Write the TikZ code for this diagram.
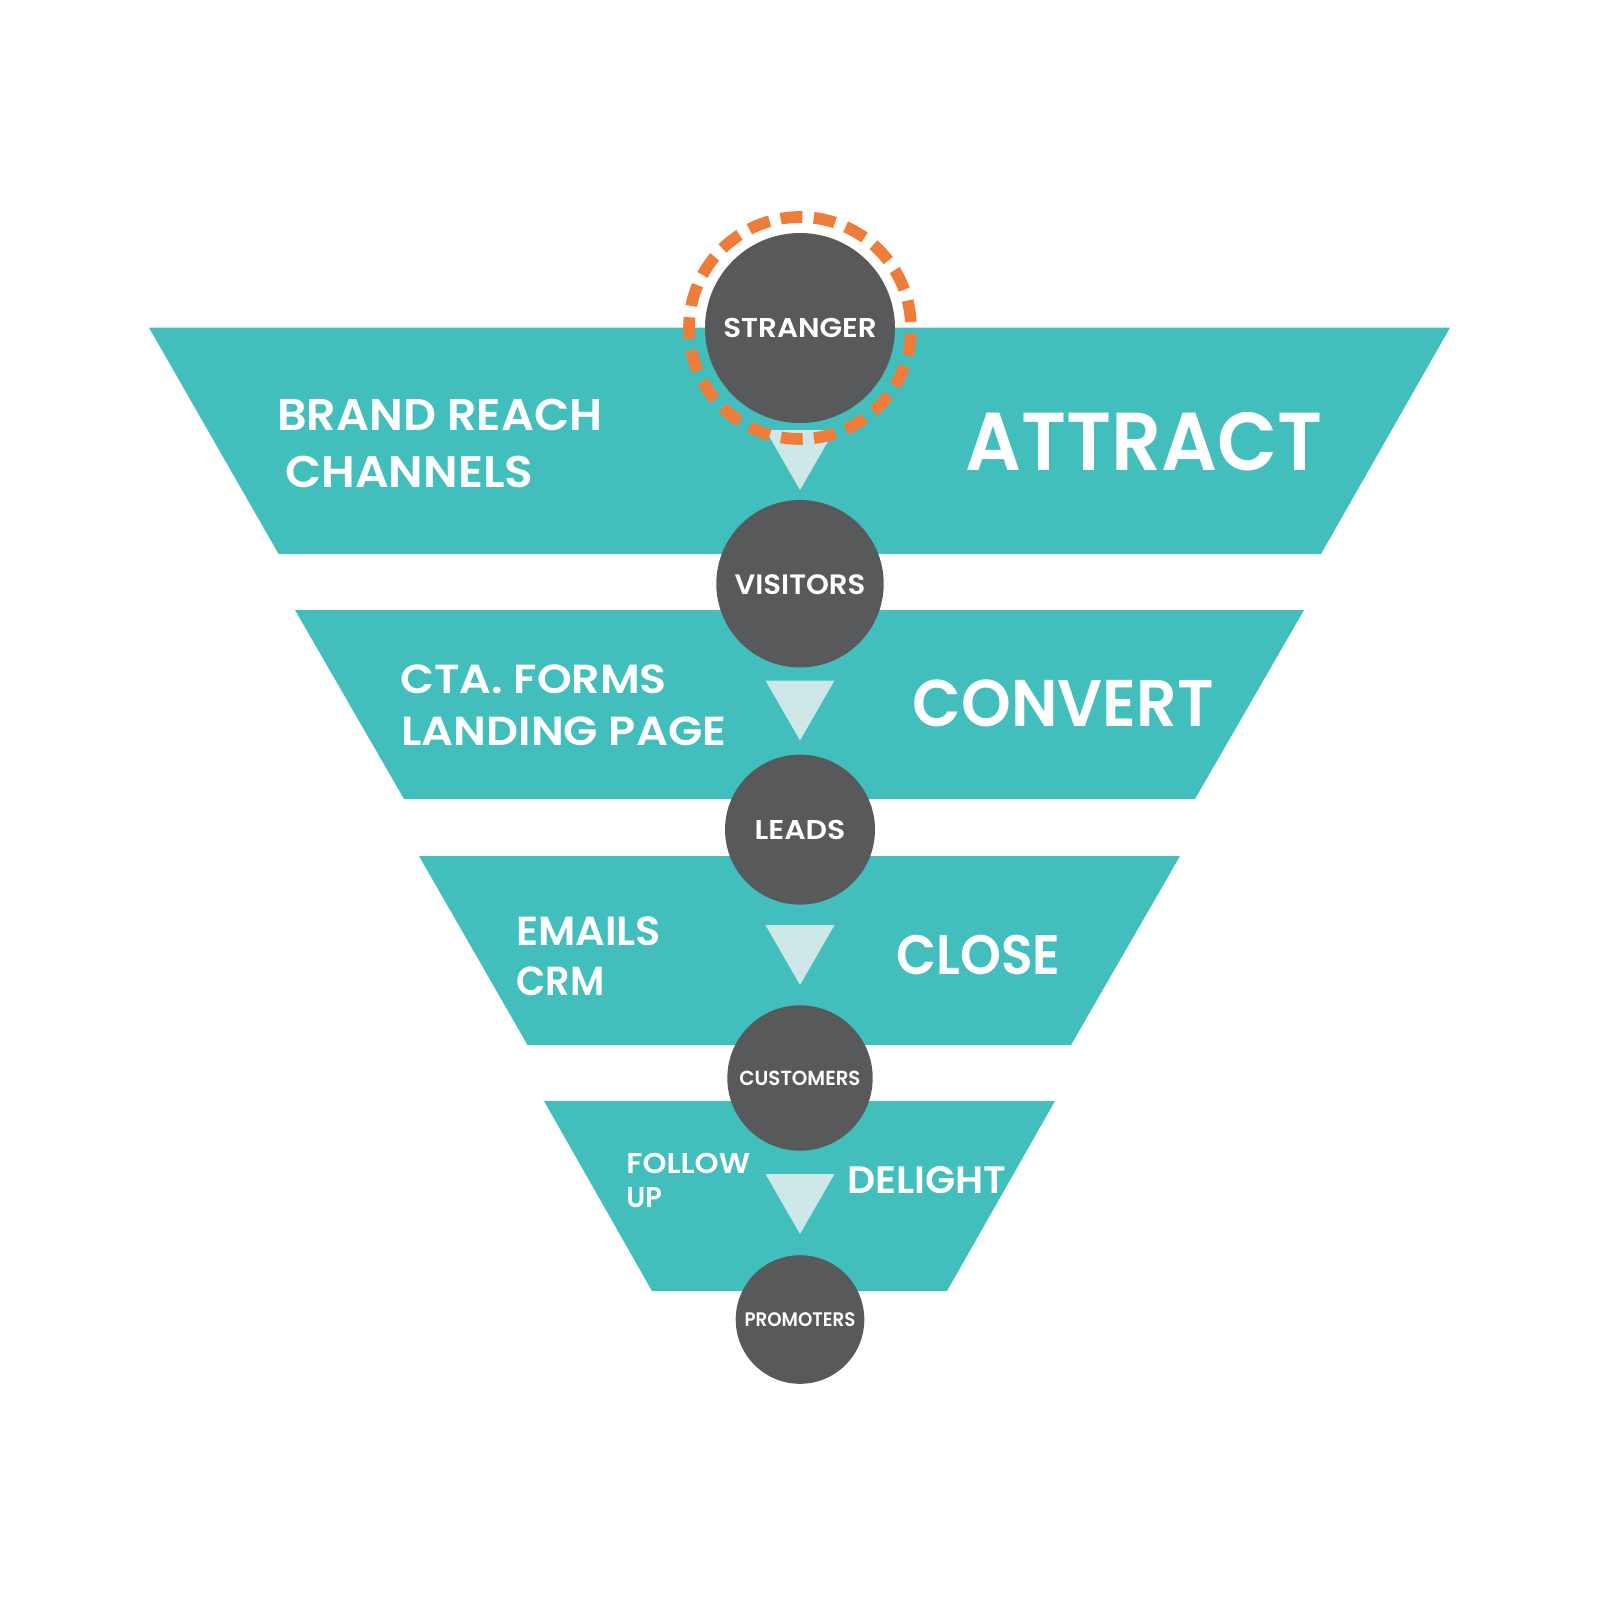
\documentclass[tikz,border=0pt]{standalone}
\usepackage{fontspec}
\usepackage{graphicx}
\setmainfont{Poppins SemiBold}
\definecolor{teal}{RGB}{66,190,189}
\definecolor{darkgray}{RGB}{88,89,91}
\definecolor{paletri}{RGB}{205,232,231}
\definecolor{ringorange}{RGB}{240,124,58}
\tikzset{
  band/.style={fill=teal,draw=none},
  tri/.style={fill=paletri,draw=none},
  stage/.style={circle,fill=darkgray,draw=none,inner sep=0pt},
  txt/.style={text=white,inner sep=0pt,anchor=base west},
  ctxt/.style={text=white,inner sep=0pt,anchor=base},
}
\newcommand{\fs}[1]{\fontsize{#1pt}{#1pt}\selectfont}
\newcommand{\sx}[2]{\scalebox{#1}[1]{#2}}
\begin{document}
\begin{tikzpicture}[x=0.5pt,y=-0.5pt]
\useasboundingbox (0,0) rectangle (1600,1600);
% bands
\fill[band] (149,327.6) -- (1450,327.6) -- (1321,554) -- (278.6,554) -- cycle;
\fill[band] (295,610) -- (1304,610) -- (1195,799) -- (404,799) -- cycle;
\fill[band] (419,856) -- (1180,856) -- (1071,1045) -- (527.5,1045) -- cycle;
\fill[band] (544,1101) -- (1055,1101) -- (947,1291) -- (652,1291) -- cycle;
% triangles
\fill[tri] (765.5,430) -- (834.5,430) -- (800,490) -- cycle;
\fill[tri] (765.5,680.5) -- (834.5,680.5) -- (800,740.5) -- cycle;
\fill[tri] (765.5,925) -- (834.5,925) -- (800,985) -- cycle;
\fill[tri] (765.5,1174) -- (834.5,1174) -- (800,1234) -- cycle;
% circles
\node[stage,minimum size=95pt] (stranger) at (800,328) {};
\draw[ringorange,line width=5.85pt,dash pattern=on 10.9pt off 5.7pt,dash phase=13.75pt] (stranger.center) circle[radius=111];
\node[stage,minimum size=83.7pt] (visitors) at (800,583.7) {};
\node[stage,minimum size=75pt] (leads) at (800,829.6) {};
\node[stage,minimum size=72.7pt] (customers) at (800,1078) {};
\node[stage,minimum size=64.3pt] (promoters) at (800,1319.5) {};
% circle labels
\node[ctxt,font=\fs{13.6}] (tstranger) at (800,337.5) {\sx{1.08}{STRANGER}};
\node[ctxt,font=\fs{14}] (tvisitors) at (800,594) {\sx{1.04}{VISITORS}};
\node[ctxt,font=\fs{13.6}] (tleads) at (800,839) {\sx{1.1}{LEADS}};
\node[ctxt,font=\fs{10.2}] (tcustomers) at (800,1085) {\sx{0.97}{CUSTOMERS}};
\node[ctxt,font=\fs{9.8}] (tpromoters) at (800,1326) {\sx{0.93}{PROMOTERS}};
% left labels
\node[txt,font=\fs{22.2}] (brand) at (277,430) {\sx{1.036}{BRAND REACH}};
\node[txt,font=\fs{22.2}] (channels) at (285,487.3) {\sx{1.06}{CHANNELS}};
\node[txt,font=\fs{20.3}] (cta) at (400,693.3) {\sx{1.09}{CTA. FORMS}};
\node[txt,font=\fs{20.3}] (landing) at (401,745) {\sx{1.1}{LANDING PAGE}};
\node[txt,font=\fs{20.3}] (emails) at (516,945) {\sx{1.02}{EMAILS}};
\node[txt,font=\fs{20.3}] (crm) at (516,995) {\sx{0.94}{CRM}};
\node[txt,font=\fs{14.3}] (follow) at (626,1173) {\sx{1.07}{FOLLOW}};
\node[txt,font=\fs{14.3}] (up) at (626,1207.3) {\sx{0.95}{UP}};
% right labels
\node[txt,font=\fs{41.1}] (attract) at (965,470.3) {\sx{0.95}{ATTRACT}};
\node[txt,font=\fs{33}] (convert) at (912.5,726.7) {\sx{0.96}{CONVERT}};
\node[txt,font=\fs{27.8}] (close) at (896,974.5) {\sx{0.935}{CLOSE}};
\node[txt,font=\fs{19.1}] (delight) at (847,1193.3) {\sx{1.027}{DELIGHT}};
\end{tikzpicture}
\end{document}
